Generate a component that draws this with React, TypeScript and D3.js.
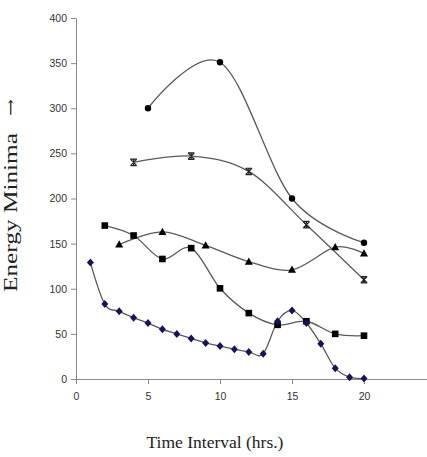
import { useEffect, useRef } from "react";
import * as d3 from "d3";

// Energy minima over time, five runs
const hoursDiamond = [1, 2, 3, 4, 5, 6, 7, 8, 9, 10, 11, 12, 13, 14, 15, 16, 17, 18, 19, 20];
const energyDiamond = [129, 83, 75, 68, 62, 55, 50, 45, 40, 36.5, 33, 30, 28, 64, 76, 62, 39, 12, 2, 0.5];

const hoursSquare = [2, 4, 6, 8, 10, 12, 14, 16, 18, 20];
const energySquare = [170, 159, 133, 145, 100.5, 73, 60, 64, 50, 48];

const hoursTriangle = [3, 6, 9, 12, 15, 18, 20];
const energyTriangle = [149, 163, 148, 130, 121, 146, 139];

const hoursStar = [4, 8, 12, 16, 20];
const energyStar = [240, 247, 230, 171, 110];

const hoursCircle = [5, 10, 15, 20];
const energyCircle = [300, 351, 200, 151];

const xTicks = [0, 5, 10, 15, 20];
const yTicks = [0, 50, 100, 150, 200, 250, 300, 350, 400];

type Pt = { x: number; y: number };
const zip = (xs: number[], ys: number[]): Pt[] => xs.map((x, i) => ({ x, y: ys[i] }));

export default function App() {
  const svgRef = useRef<SVGSVGElement>(null);

  useEffect(() => {
    if (!svgRef.current) return;
    const width = 427;
    const height = 457;
    const svg = d3.select(svgRef.current);
    svg.selectAll("*").remove();

    const x = d3.scaleLinear().domain([0, 25]).range([76, 436]);
    const y = d3.scaleLinear().domain([0, 400]).range([379, 18]);

    const axisColor = "#8a8a8a";
    const tickFont = "'Liberation Sans', Arial, sans-serif";
    const serif = "'Liberation Serif', 'Times New Roman', serif";

    // Y axis
    const yAxis = svg
      .append("g")
      .attr("transform", `translate(${x(0)},0)`)
      .call(d3.axisLeft(y).tickValues(yTicks).tickSize(5).tickPadding(4).tickSizeOuter(0));
    yAxis.select(".domain").attr("stroke", axisColor);
    yAxis.selectAll(".tick line").attr("stroke", axisColor);
    yAxis
      .selectAll(".tick text")
      .attr("fill", "#333")
      .attr("font-size", 10.5)
      .attr("font-family", tickFont);

    // X axis
    const xAxis = svg
      .append("g")
      .attr("transform", `translate(0,${y(0)})`)
      .call(d3.axisBottom(x).tickValues(xTicks).tickSize(5).tickPadding(9).tickSizeOuter(0));
    xAxis.select(".domain").attr("stroke", axisColor);
    xAxis.selectAll(".tick line").attr("stroke", axisColor);
    xAxis
      .selectAll(".tick text")
      .attr("fill", "#333")
      .attr("font-size", 10.5)
      .attr("font-family", tickFont);

    // Axis titles
    svg
      .append("text")
      .attr("x", 215)
      .attr("y", 448)
      .attr("text-anchor", "middle")
      .attr("font-family", serif)
      .attr("font-size", 17.5)
      .attr("fill", "#222")
      .text("Time Interval (hrs.)");

    const yTitle = svg.append("g").attr("transform", "translate(17,292) rotate(-90)");
    yTitle
      .append("text")
      .attr("x", 0)
      .attr("y", 0)
      .attr("font-family", serif)
      .attr("font-size", 18.5)
      .attr("fill", "#222")
      .attr("textLength", 159)
      .attr("lengthAdjust", "spacingAndGlyphs")
      .text("Energy Minima");
    yTitle
      .append("text")
      .attr("x", 176)
      .attr("y", -1)
      .attr("font-family", "'DejaVu Serif', serif")
      .attr("font-size", 16)
      .attr("fill", "#222")
      .attr("textLength", 17)
      .attr("lengthAdjust", "spacingAndGlyphs")
      .text("\u2192");

    const line = d3
      .line<Pt>()
      .x((d) => x(d.x))
      .y((d) => y(d.y))
      .curve(d3.curveCatmullRom.alpha(0));

    const series = [
      { data: zip(hoursCircle, energyCircle), marker: "circle" },
      { data: zip(hoursStar, energyStar), marker: "star" },
      { data: zip(hoursTriangle, energyTriangle), marker: "triangle" },
      { data: zip(hoursSquare, energySquare), marker: "square" },
      { data: zip(hoursDiamond, energyDiamond), marker: "diamond" },
    ];

    series.forEach((s) => {
      svg
        .append("path")
        .datum(s.data)
        .attr("fill", "none")
        .attr("stroke", "#5a5a5a")
        .attr("stroke-width", 1.3)
        .attr("d", line);
    });

    series.forEach((s) => {
      const g = svg.append("g");
      s.data.forEach((d) => {
        const cx = x(d.x);
        const cy = y(d.y);
        if (s.marker === "circle") {
          g.append("circle").attr("cx", cx).attr("cy", cy).attr("r", 3.2).attr("fill", "#000");
        } else if (s.marker === "square") {
          g.append("rect")
            .attr("x", cx - 3.3)
            .attr("y", cy - 3.3)
            .attr("width", 6.6)
            .attr("height", 6.6)
            .attr("fill", "#000");
        } else if (s.marker === "triangle") {
          g.append("path")
            .attr("d", `M${cx},${cy - 4.2}L${cx + 4},${cy + 3}L${cx - 4},${cy + 3}Z`)
            .attr("fill", "#000");
        } else if (s.marker === "diamond") {
          g.append("path")
            .attr("d", `M${cx},${cy - 4}L${cx + 3.5},${cy}L${cx},${cy + 4}L${cx - 3.5},${cy}Z`)
            .attr("fill", "#14145a");
        } else {
          const r = 3.2;
          g.append("path")
            .attr(
              "d",
              `M${cx - r},${cy - r}L${cx + r},${cy + r}M${cx + r},${cy - r}L${cx - r},${cy + r}` +
                `M${cx},${cy - r}L${cx},${cy + r}M${cx - r},${cy - r}L${cx + r},${cy - r}` +
                `M${cx - r},${cy + r}L${cx + r},${cy + r}`
            )
            .attr("stroke", "#222")
            .attr("stroke-width", 1.2)
            .attr("fill", "none");
        }
      });
    });

    svg.attr("width", width).attr("height", height);
  }, []);

  return (
    <div style={{ position: "fixed", left: 0, top: 0, background: "#fff" }}>
      <svg ref={svgRef} width={427} height={457} style={{ display: "block" }} />
    </div>
  );
}
